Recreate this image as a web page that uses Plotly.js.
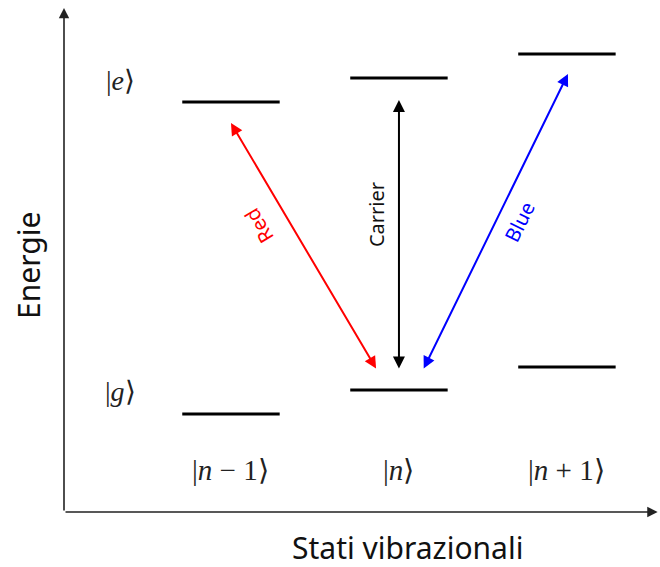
<!DOCTYPE html>
<html>
<head>
<meta charset="utf-8">
<script src="https://cdn.plot.ly/plotly-3.0.1.min.js"></script>
<style>html,body{margin:0;padding:0;background:#fff;}#chart{width:660px;height:567px;}</style>
</head>
<body>
<div id="chart"></div>
<script>
// ---- data ----
const stateLabels = ['|<i>n</i> − 1⟩', '|<i>n</i>⟩', '|<i>n</i> + 1⟩'];
const statePos = [0, 1, 2];
const groundE = [-1.02, 0.0, 0.98];
const excitedE = [12.26, 13.28, 14.30];
const levelLabels = ['|<i>e</i>⟩', '|<i>g</i>⟩'];
const transitionNames = ['Red', 'Carrier', 'Blue'];
const transitionColors = ['#ff0000', '#000000', '#0000ff'];
const transFromX = [0.869, 1.0, 1.143];
const transFromE = [0.85, 0.85, 0.85];
const transToX = [0.0, 1.0, 2.006];
const transToE = [11.36, 12.34, 13.45];

// ---- layout helpers ----
const halfW = 0.29;
const lx = [], ly = [];
statePos.forEach((p, i) => {
  lx.push(p - halfW, p + halfW, null, p - halfW, p + halfW, null);
  ly.push(groundE[i], groundE[i], null, excitedE[i], excitedE[i], null);
});

const traces = [{
  x: lx, y: ly, mode: 'lines', type: 'scatter',
  line: {color: '#000', width: 3}, hoverinfo: 'skip', showlegend: false
}];

const annotations = [];
// axes arrows
const axOrigX = -0.994, axOrigE = -5.19, axTopE = 16.26, axRightX = 2.54;
annotations.push({x: axOrigX, y: axTopE, ax: axOrigX, ay: axOrigE, xref: 'x', yref: 'y', axref: 'x', ayref: 'y',
  showarrow: true, arrowhead: 2, arrowsize: 1.3, arrowwidth: 1.6, arrowcolor: '#222', text: '', standoff: 0, startstandoff: 0});
annotations.push({x: axRightX, y: axOrigE, ax: axOrigX, ay: axOrigE, xref: 'x', yref: 'y', axref: 'x', ayref: 'y',
  showarrow: true, arrowhead: 2, arrowsize: 1.3, arrowwidth: 1.6, arrowcolor: '#222', text: '', standoff: 0, startstandoff: 0});

// transitions
transitionNames.forEach((n, i) => {
  annotations.push({x: transToX[i], y: transToE[i], ax: transFromX[i], ay: transFromE[i],
    xref: 'x', yref: 'y', axref: 'x', ayref: 'y', showarrow: true, arrowside: 'end+start',
    arrowhead: 2, startarrowhead: 2, arrowsize: 1.2, startarrowsize: 1.2, arrowwidth: 2, arrowcolor: transitionColors[i],
    text: '', standoff: 0, startstandoff: 0});
});
// transition labels
const tlx = [0.17, 0.87, 1.72];
const tle = [6.98, 7.45, 7.15];
const tla = [-120.8, -90, -63.9];
transitionNames.forEach((n, i) => {
  annotations.push({x: tlx[i], y: tle[i], xref: 'x', yref: 'y', text: n, showarrow: false,
    xanchor: 'center', yanchor: 'middle',
    textangle: tla[i], font: {family: 'Noto Sans', size: 20, color: transitionColors[i] === '#000000' ? '#111' : transitionColors[i]}});
});
// level labels
annotations.push({x: -0.66, y: 13.19, xref: 'x', yref: 'y', text: levelLabels[0], showarrow: false,
  xanchor: 'center', yanchor: 'middle', font: {family: 'Liberation Serif', size: 28, color: '#222'}});
annotations.push({x: -0.66, y: -0.08, xref: 'x', yref: 'y', text: levelLabels[1], showarrow: false,
  xanchor: 'center', yanchor: 'middle', font: {family: 'Liberation Serif', size: 28, color: '#222'}});
statePos.forEach((p, i) => {
  annotations.push({x: p, y: -3.40, xref: 'x', yref: 'y', text: stateLabels[i], showarrow: false,
    xanchor: 'center', yanchor: 'middle', font: {family: 'Liberation Serif', size: 29, color: '#222'}});
});
// axis titles
annotations.push({x: 28/660, y: 1 - 266/567, xref: 'paper', yref: 'paper', text: 'Energie', showarrow: false,
  xanchor: 'center', yanchor: 'middle',
  textangle: -90, font: {family: 'Noto Sans', size: 30, color: '#111'}});
annotations.push({x: 407/660, y: 1 - 547/567, xref: 'paper', yref: 'paper', text: 'Stati vibrazionali', showarrow: false,
  xanchor: 'center', yanchor: 'middle',
  font: {family: 'Noto Sans', size: 30, color: '#111'}});

const layout = {
  width: 660, height: 567,
  margin: {l: 0, r: 0, t: 0, b: 0},
  paper_bgcolor: '#fff', plot_bgcolor: '#fff',
  xaxis: {range: [-1.375, 2.554], visible: false, fixedrange: true},
  yaxis: {range: [-7.532, 16.596], visible: false, fixedrange: true},
  showlegend: false,
  annotations: annotations
};
Plotly.newPlot('chart', traces, layout, {displayModeBar: false, staticPlot: true});
</script>
</body>
</html>
